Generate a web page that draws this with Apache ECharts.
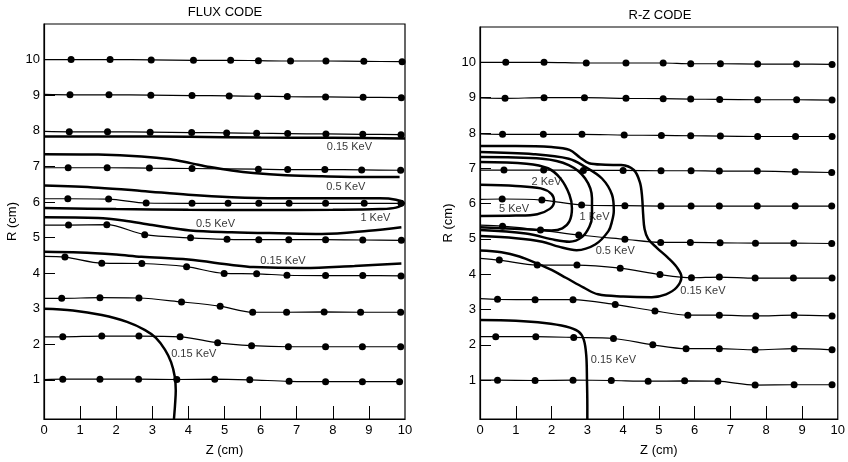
<!DOCTYPE html>
<html><head><meta charset="utf-8">
<script src="https://cdn.jsdelivr.net/npm/echarts@6/dist/echarts.min.js"></script>
<style>html,body{margin:0;padding:0;background:#fff}#c{width:848px;height:462px}</style>
</head><body><div id="c"></div>
<script>
// ---------- tick labels ----------
const zTicks = [0,1,2,3,4,5,6,7,8,9,10];
const zInnerTicks = [1,2,3,4,5,6,7,8,9];
const rTicks = [1,2,3,4,5,6,7,8,9,10];

// ---------- FLUX CODE: trajectories [Z, R] (first point = start at Z=0, no dot) ----------
const flux10 = [[0,10.0],[0.75,10.0],[1.83,10.0],[2.97,9.99],[4.14,9.98],[5.17,9.98],[5.94,9.97],[6.83,9.96],[7.81,9.96],[8.86,9.95],[9.92,9.94]];
const flux9  = [[0,9.02],[0.72,9.01],[1.8,9.01],[2.96,9.0],[4.1,8.99],[5.13,8.98],[5.92,8.97],[6.74,8.96],[7.8,8.95],[8.84,8.94],[9.9,8.93]];
const flux8  = [[0,7.98],[0.7,7.97],[1.76,7.97],[2.94,7.96],[4.09,7.95],[5.06,7.94],[5.89,7.93],[6.75,7.92],[7.81,7.91],[8.83,7.9],[9.89,7.89]];
const flux7  = [[0,6.96],[0.67,6.96],[1.75,6.96],[2.92,6.95],[4.1,6.94],[5.94,6.92],[6.75,6.91],[7.78,6.91],[8.8,6.9],[9.88,6.89]];
const flux6  = [[0,6.09],[0.66,6.09],[1.79,6.08],[2.83,5.97],[4.1,5.96],[5.1,5.96],[5.95,5.96],[6.79,5.96],[7.8,5.96],[8.87,5.96],[9.89,5.96]];
const flux5  = [[0,5.35],[0.68,5.35],[1.74,5.36],[2.79,5.08],[4.06,4.99],[5.07,4.95],[5.95,4.94],[6.78,4.94],[7.8,4.94],[8.83,4.93],[9.9,4.92]];
const flux4  = [[0,4.47],[0.58,4.45],[1.6,4.28],[2.71,4.27],[3.95,4.18],[4.99,3.99],[5.89,3.98],[6.73,3.94],[7.8,3.93],[8.83,3.93],[9.89,3.92]];
const flux3  = [[0,3.29],[0.49,3.29],[1.55,3.31],[2.63,3.3],[3.81,3.19],[4.88,3.07],[5.78,2.9],[6.72,2.9],[7.76,2.91],[8.77,2.9],[9.88,2.9]];
const flux2  = [[0,2.21],[0.52,2.21],[1.6,2.23],[2.63,2.23],[3.77,2.21],[4.81,2.04],[5.75,1.96],[6.77,1.93],[7.8,1.93],[8.82,1.93],[9.88,1.93]];
const flux1  = [[0,1.01],[0.52,1.02],[1.55,1.02],[2.62,1.02],[3.68,1.01],[4.73,1.02],[5.7,1.0],[6.79,0.96],[7.8,0.95],[8.82,0.95],[9.85,0.95]];

// ---------- FLUX CODE: temperature contours [Z, R] ----------
const fluxC015Top  = [[0,7.84],[2,7.84],[4,7.83],[6,7.81],[8,7.8],[10,7.78]];
const fluxC05Upper = [[0,7.34],[1.5,7.33],[2.7,7.28],[3.5,7.2],[4.06,7.09],[4.6,6.98],[5.2,6.88],[5.8,6.81],[6.7,6.75],[7.7,6.72],[9,6.7],[9.85,6.7]];
const fluxC1       = [[0,6.46],[1.5,6.4],[2.7,6.31],[4,6.2],[5.2,6.13],[6.5,6.1],[8,6.1],[9.3,6.1],[9.75,6.06],[9.97,5.96],[9.75,5.84],[9.3,5.8],[8,5.78],[6,5.77],[4,5.78],[2,5.8],[0,5.83]];
const fluxC05Lower = [[0,5.57],[1.5,5.55],[2.2,5.48],[3,5.35],[4.05,5.2],[5.2,5.15],[6.5,5.12],[7.7,5.1],[9,5.19],[9.9,5.29]];
const fluxC015Mid  = [[0,4.6],[1,4.58],[2,4.52],[2.7,4.46],[4,4.38],[5.2,4.23],[5.8,4.17],[7.2,4.14],[8.6,4.2],[9.9,4.27]];
const fluxC015Low  = [[0,3.0],[0.8,2.95],[1.6,2.82],[2.3,2.63],[2.8,2.4],[3.1,2.18],[3.35,1.85],[3.52,1.5],[3.62,1.1],[3.65,0.7],[3.63,0.3],[3.6,-0.1]];
const fluxLabels = [['0.15 KeV',8.46,7.55],['0.5 KeV',8.36,6.43],['1 KeV',9.18,5.55],['0.5 KeV',4.75,5.38],['0.15 KeV',6.62,4.33],['0.15 KeV',4.15,1.74]];

// ---------- R-Z CODE: trajectories ----------
const rz10 = [[0,10.0],[0.72,10.0],[1.79,10.0],[2.97,9.98],[4.08,9.98],[5.12,9.98],[5.89,9.96],[6.72,9.96],[7.76,9.95],[8.85,9.95],[9.84,9.94]];
const rz9  = [[0,8.99],[0.7,8.98],[1.79,9.0],[2.92,9.0],[4.08,8.98],[5.12,8.97],[5.89,8.96],[6.7,8.95],[7.76,8.94],[8.85,8.94],[9.84,8.93]];
const rz8  = [[0,7.97],[0.63,7.96],[1.77,7.96],[2.85,7.96],[4.03,7.94],[5.07,7.93],[5.89,7.92],[6.72,7.91],[7.76,7.9],[8.82,7.9],[9.84,7.9]];
const rz7  = [[0,6.95],[0.67,6.95],[1.78,6.95],[2.89,6.94],[4.0,6.94],[5.06,6.93],[5.9,6.93],[6.69,6.92],[7.75,6.92],[8.81,6.9],[9.83,6.88]];
const rz6  = [[0,6.12],[0.62,6.13],[1.73,6.1],[2.84,5.96],[4.05,5.94],[5.06,5.93],[5.9,5.93],[6.69,5.93],[7.75,5.93],[8.81,5.93],[9.83,5.93]];
const rz5  = [[0,5.39],[0.63,5.36],[1.69,5.25],[2.76,5.11],[4.05,4.99],[5.05,4.9],[5.88,4.9],[6.71,4.89],[7.7,4.88],[8.77,4.88],[9.83,4.87]];
const rz4  = [[0,4.45],[0.54,4.4],[1.6,4.26],[2.71,4.26],[3.92,4.17],[5.03,3.99],[5.91,3.9],[6.69,3.92],[7.69,3.89],[8.76,3.89],[9.84,3.89]];
const rz3  = [[0,3.31],[0.49,3.29],[1.54,3.28],[2.6,3.28],[3.78,3.14],[4.89,2.96],[5.81,2.84],[6.69,2.84],[7.71,2.82],[8.78,2.84],[9.84,2.82]];
const rz2  = [[0,2.23],[0.44,2.23],[1.56,2.23],[2.62,2.21],[3.73,2.18],[4.83,2.0],[5.76,1.89],[6.69,1.89],[7.69,1.86],[8.78,1.89],[9.84,1.86]];
const rz1  = [[0,1.0],[0.49,1.0],[1.54,0.99],[2.6,1.0],[3.67,0.99],[4.7,0.97],[5.72,0.98],[6.65,0.97],[7.69,0.86],[8.78,0.87],[9.84,0.87]];

// ---------- R-Z CODE: contours ----------
const rzC015Outer = [[0,7.63],[1,7.63],[2,7.6],[2.5,7.52],[2.8,7.3],[3.05,7.14],[3.5,7.1],[3.95,7.09],[4.3,6.95],[4.47,6.6],[4.53,6.2],[4.56,5.7],[4.6,5.28],[4.7,5.0],[4.95,4.74],[5.25,4.47],[5.5,4.2],[5.63,3.93],[5.5,3.63],[5.2,3.43],[4.8,3.35],[4.0,3.37],[3.3,3.43],[2.9,3.62],[2.4,3.9],[2.0,4.12],[1.6,4.3],[1.1,4.5],[0.6,4.62],[0,4.67]];
const rzC05 = [[0,7.46],[1.5,7.4],[2.48,7.27],[2.94,7.04],[3.41,6.71],[3.69,6.25],[3.74,5.8],[3.69,5.5],[3.59,5.22],[3.22,4.84],[2.7,4.68],[2.2,4.78],[1.74,4.92],[1,5.02],[0,5.08]];
const rzC1  = [[0,7.32],[1.74,7.27],[2.48,7.09],[2.94,6.71],[3.13,6.15],[3.13,5.65],[3.06,5.35],[2.85,5.05],[2.5,4.92],[2.1,4.97],[1.28,5.15],[0,5.25]];
const rzC2  = [[0,7.18],[1.3,7.13],[1.9,7.0],[2.25,6.71],[2.5,6.25],[2.57,5.87],[2.5,5.5],[2.3,5.3],[2.0,5.24],[1.3,5.27],[0,5.33]];
const rzC5  = [[0,6.53],[1,6.5],[1.7,6.43],[2.0,6.27],[2.07,6.06],[1.95,5.85],[1.6,5.7],[1,5.66],[0,5.65]];
const rzC015Low = [[0,2.7],[1,2.68],[1.8,2.62],[2.4,2.52],[2.75,2.38],[2.9,2.15],[2.97,1.7],[2.99,1.0],[3.0,0.3],[3.0,-0.1]];
const rzLabels = [['5 KeV',0.95,5.84],['2 KeV',1.86,6.62],['1 KeV',3.2,5.62],['0.5 KeV',3.78,4.65],['0.15 KeV',6.23,3.52],['0.15 KeV',3.73,1.56]];

// ---------- build ----------
const FONT = '"Liberation Sans", Arial, sans-serif';
const chart = echarts.init(document.getElementById('c'), null, {renderer:'canvas'});

function traj(data, gi) {
  return {type:'line', xAxisIndex:gi, yAxisIndex:gi, silent:true, animation:false, z:2,
    data: data.map((p,i)=> i===0 ? {value:p, symbolSize:0} : p),
    smooth:0.3, symbol:'circle', symbolSize:7, showSymbol:true,
    lineStyle:{color:'#000', width:1.2}, itemStyle:{color:'#000'}};
}
function contour(data, gi) {
  return {type:'line', xAxisIndex:gi, yAxisIndex:gi, silent:true, animation:false, z:3,
    data: data, smooth:0.35, showSymbol:false, symbol:'none',
    lineStyle:{color:'#000', width:2.5}};
}
function labels(list, gi) {
  return {type:'scatter', xAxisIndex:gi, yAxisIndex:gi, silent:true, animation:false, z:5,
    symbolSize:1, itemStyle:{color:'rgba(0,0,0,0)'},
    data: list.map(l=>({name:l[0], value:[l[1], l[2]]})),
    label:{show:true, position:'inside', formatter:p=>p.name, color:'#000', fontSize:11, fontFamily:FONT}};
}
function xAx(gi){
  return {gridIndex:gi, type:'value', min:0, max:10, interval:1,
    name:'Z (cm)', nameLocation:'middle', nameGap:25,
    nameTextStyle:{color:'#000', fontSize:13, fontFamily:FONT},
    axisLine:{show:true, onZero:false, lineStyle:{color:'#000', width:1.2}},
    axisTick:{show:true, inside:true, length:13, customValues:zInnerTicks, lineStyle:{color:'#000', width:1}},
    axisLabel:{color:'#000', fontSize:13, fontFamily:FONT, margin:5, showMinLabel:true, showMaxLabel:true},
    splitLine:{show:false}};
}
function yAx(gi){
  return {gridIndex:gi, type:'value', min:-0.1, max:11,
    name:'R (cm)', nameLocation:'middle', nameGap:25, nameRotate:90,
    nameTextStyle:{color:'#000', fontSize:13, fontFamily:FONT},
    axisLine:{show:true, onZero:false, lineStyle:{color:'#000', width:1.2}},
    axisTick:{show:true, inside:true, length:11, customValues:rTicks, lineStyle:{color:'#000', width:1}},
    axisLabel:{color:'#000', fontSize:13, fontFamily:FONT, margin:4, customValues:rTicks},
    splitLine:{show:false}};
}

const series = [];
[flux10,flux9,flux8,flux7,flux6,flux5,flux4,flux3,flux2,flux1].forEach(d=>series.push(traj(d,0)));
[fluxC015Top,fluxC05Upper,fluxC1,fluxC05Lower,fluxC015Mid,fluxC015Low].forEach(d=>series.push(contour(d,0)));
series.push(labels(fluxLabels,0));
[rz10,rz9,rz8,rz7,rz6,rz5,rz4,rz3,rz2,rz1].forEach(d=>series.push(traj(d,1)));
[rzC015Outer,rzC05,rzC1,rzC2,rzC5,rzC015Low].forEach(d=>series.push(contour(d,1)));
series.push(labels(rzLabels,1));

chart.setOption({
  backgroundColor:'#fff',
  animation:false,
  graphic:[
    {type:'text', x:225, y:12, style:{text:'FLUX CODE', align:'center', verticalAlign:'middle', font:'13px "Liberation Sans", Arial, sans-serif', fill:'#000'}},
    {type:'text', x:660, y:15, style:{text:'R-Z CODE', align:'center', verticalAlign:'middle', font:'13px "Liberation Sans", Arial, sans-serif', fill:'#000'}}
  ],
  grid:[
    {left:44, top:24, width:361, height:400, show:true, borderColor:'#000', borderWidth:1.2},
    {left:480, top:27, width:360, height:397, show:true, borderColor:'#000', borderWidth:1.2}
  ],
  xAxis:[xAx(0), xAx(1)],
  yAxis:[yAx(0), yAx(1)],
  series: series
});
</script></body></html>
